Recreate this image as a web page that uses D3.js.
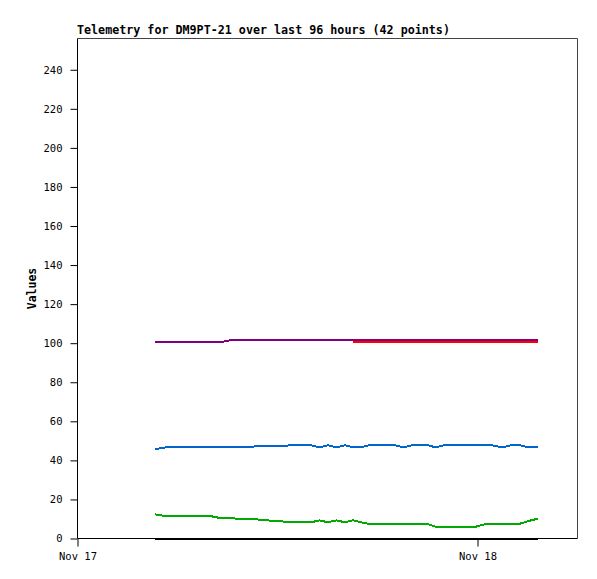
<!DOCTYPE html>
<html><head><meta charset="utf-8">
<script src="https://cdn.jsdelivr.net/npm/d3@7"></script>
<style>
body{margin:0;background:#fff;}
svg{display:block;}
text{font-family:"DejaVu Sans Mono",monospace;}
</style></head>
<body><svg id="c" width="597" height="579"></svg>
<script>
const title = "Telemetry for DM9PT-21 over last 96 hours (42 points)";
const yLabel = "Values";
const xTickDates = ["2023-11-17 00:00", "2023-11-18 00:00"];
const yTicks = [0,20,40,60,80,100,120,140,160,180,200,220,240];

const times = [
 "2023-11-17 04:39","2023-11-17 05:19","2023-11-17 05:58","2023-11-17 06:41","2023-11-17 07:21",
 "2023-11-17 08:01","2023-11-17 08:40","2023-11-17 09:20","2023-11-17 10:03","2023-11-17 10:43",
 "2023-11-17 11:22","2023-11-17 12:05","2023-11-17 12:45","2023-11-17 13:28","2023-11-17 14:01",
 "2023-11-17 14:31","2023-11-17 15:02","2023-11-17 15:32","2023-11-17 16:03","2023-11-17 16:32",
 "2023-11-17 17:01","2023-11-17 17:29","2023-11-17 18:02","2023-11-17 18:34","2023-11-17 19:03",
 "2023-11-17 19:34","2023-11-17 20:04","2023-11-17 20:33","2023-11-17 21:02","2023-11-17 21:29",
 "2023-11-17 21:59","2023-11-17 22:28","2023-11-17 22:57","2023-11-17 23:26","2023-11-17 23:55",
 "2023-11-18 00:23","2023-11-18 00:52","2023-11-18 01:30","2023-11-18 02:01","2023-11-18 02:33",
 "2023-11-18 03:05","2023-11-18 03:38"];

const purple = [100.6,100.6,100.6,100.6,100.6,100.6,100.6,101.8,101.8,101.8,
 101.8,101.8,101.8,101.8,101.8,101.8,101.8,101.8,101.8,101.8,
 101.8,101.8,101.8,101.8,101.8,101.8,101.8,101.8,101.8,101.8,
 101.8,101.8,101.8,101.8,101.8,101.8,101.8,101.8,101.8,101.8,101.8,101.8];
const red = [null,null,null,null,null,null,null,null,null,null,
 null,null,null,null,null,null,null,null,null,100.8,
 100.8,100.8,100.8,100.8,100.8,100.8,100.8,100.8,100.8,100.8,
 100.8,100.8,100.8,100.8,100.8,100.8,100.8,100.8,100.8,100.8,100.8,100.8];
const blue = [45.7,46.7,46.7,46.7,46.7,46.7,46.7,46.7,46.7,47.2,
 47.2,47.2,47.7,47.7,47.7,46.7,47.7,46.7,47.7,46.7,
 46.7,47.7,47.7,47.7,47.7,46.7,47.7,47.7,47.7,46.7,
 47.7,47.7,47.7,47.7,47.7,47.7,47.7,46.7,47.7,47.7,46.7,46.7];
const green = [12.4,11.4,11.4,11.4,11.4,11.4,10.3,10.3,9.8,9.8,
 9.3,8.8,8.5,8.3,8.3,9.3,8.3,9.3,8.3,9.3,
 8.3,7.5,7.3,7.3,7.3,7.3,7.3,7.3,7.3,6.1,
 6.1,6.1,6.1,6.1,6.1,7.2,7.2,7.2,7.2,7.6,9.0,10.2];
const black = [0,0,0,0,0,0,0,0,0,0,0,0,0,0,0,0,0,0,0,0,0,
 0,0,0,0,0,0,0,0,0,0,0,0,0,0,0,0,0,0,0,0,0];

const seriesNames = ["black","green","blue","red","purple"];
const seriesValues = [black, green, blue, red, purple];
const seriesColors = ["#000000","#00aa00","#0066cc","#ff0000","#800080"];

const parse = d3.utcParse("%Y-%m-%d %H:%M");
const T = times.map(parse);
const svg = d3.select("#c");
const L = 77.5, R = 577.5, TOP = 38.5, B = 538.5;

const x = d3.scaleUtc().domain([parse("2023-11-17 00:00"), parse("2023-11-18 06:00")]).range([L, R]);
const y = d3.scaleLinear().domain([0, 256]).range([B, TOP]);

// frame top/right
svg.append("line").attr("x1",L).attr("x2",R).attr("y1",TOP).attr("y2",TOP).attr("stroke","#444");
svg.append("line").attr("x1",R).attr("x2",R).attr("y1",TOP).attr("y2",B).attr("stroke","#444");

// series
seriesValues.forEach((vals, i) => {
  const line = d3.line()
    .defined(d => d.v !== null)
    .x(d => x(d.t)).y(d => y(d.v));
  const data = vals.map((v, j) => ({t: T[j], v: v}));
  svg.append("path").datum(data)
    .attr("d", line)
    .attr("fill","none")
    .attr("stroke", seriesColors[i])
    .attr("stroke-width", 2)
    .attr("shape-rendering","crispEdges");
});

// axes
const yAxis = d3.axisLeft(y).tickValues(yTicks).tickSize(7).tickSizeOuter(0).tickPadding(8);
const gy = svg.append("g").attr("transform",`translate(${L},0)`).call(yAxis);
const xAxis = d3.axisBottom(x).tickValues(xTickDates.map(parse)).tickFormat(d3.utcFormat("%b %d")).tickSize(8).tickSizeOuter(0).tickPadding(6);
const gx = svg.append("g").attr("transform",`translate(0,${B})`).call(xAxis);
[gx, gy].forEach(g => {
  g.selectAll("text").attr("font-family","DejaVu Sans Mono").attr("font-size","10.5px").attr("fill","#000");
  g.selectAll("line").attr("stroke","#000");
});
gy.select("path.domain").remove();
gx.select("path.domain").remove();
svg.append("line").attr("x1",L).attr("x2",L).attr("y1",TOP).attr("y2",B).attr("stroke","#000");
svg.append("line").attr("x1",L).attr("x2",R).attr("y1",B).attr("y2",B).attr("stroke","#000");

// title
svg.append("text").attr("x",77).attr("y",34).attr("font-size","11.7px").attr("font-weight","bold").text(title);
// y label
svg.append("text").attr("transform",`translate(36,${(TOP+B)/2}) rotate(-90)`)
  .attr("text-anchor","middle").attr("font-size","11.5px").attr("font-weight","bold").text(yLabel);
</script></body></html>
